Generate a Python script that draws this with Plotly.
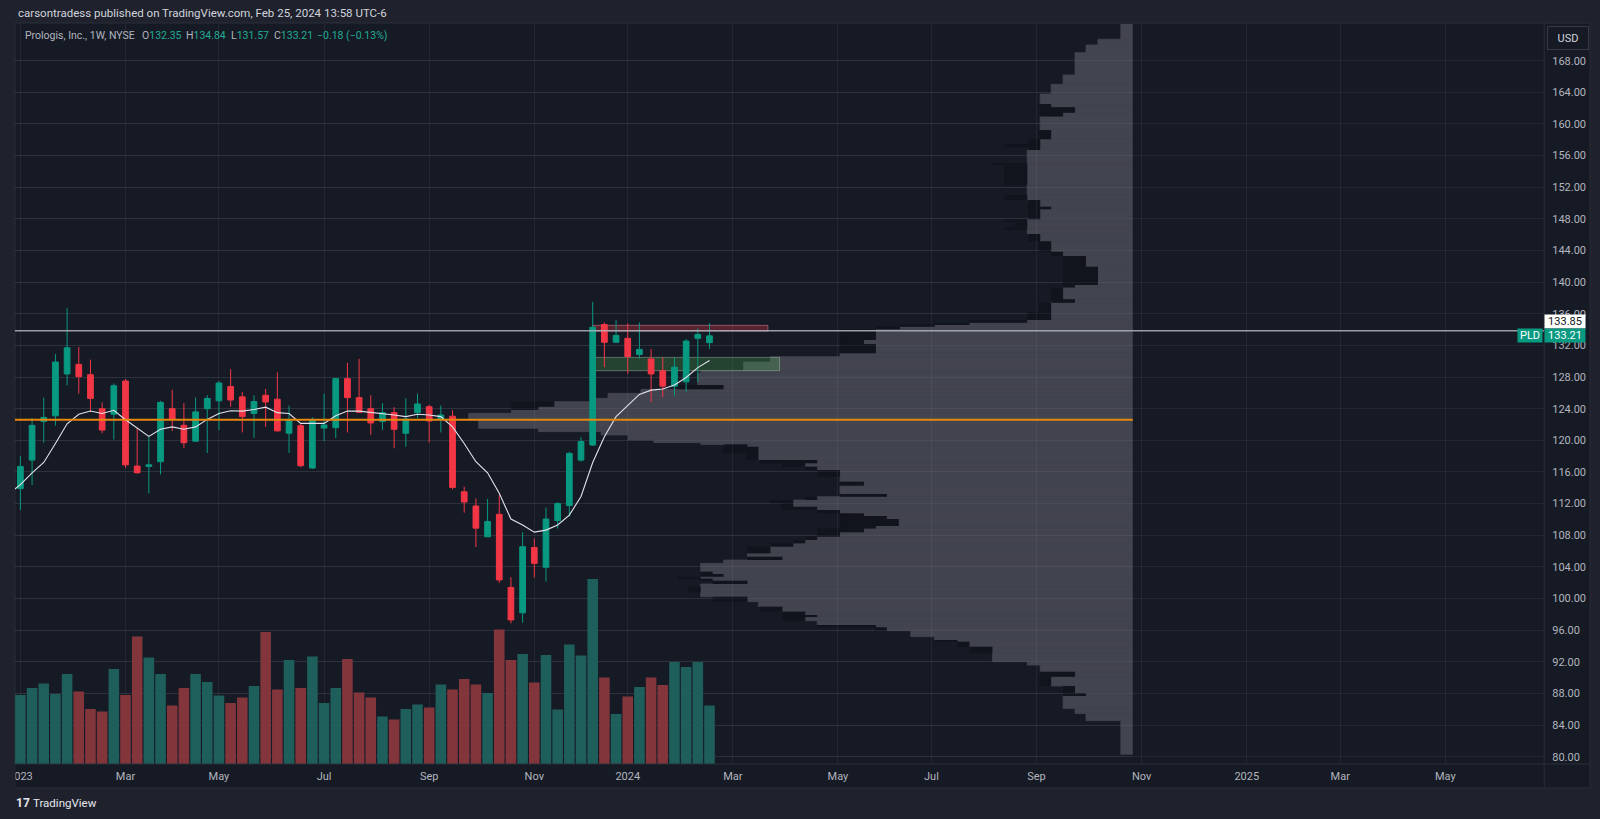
import plotly.graph_objects as go
import pandas as pd

# ---------------- colours ----------------
BG_OUTER = "#1f222d"
BG_CHART = "#161a25"
GRID = "rgba(200,205,220,0.07)"
BORDER = "#2a2e39"
TXT = "#b2b5be"
UP = "#089981"
DOWN = "#f23645"
VOL_UP = "#1f5f5b"
VOL_DOWN = "#82363c"
PROF_LIGHT = "#42444f"
PROF_DARK = "#11141d"

W, H = 1600, 819

# ---------------- data: weekly PLD candles ----------------
week_start = "2023-01-02"
opens = [113.9, 117.5, 122.4, 123.1, 128.4, 129.6, 128.3, 124.0, 123.3, 127.5,
         116.75, 116.7, 117.3, 124.0, 121.9, 119.9, 124.0, 125.0, 126.8, 125.5,
         123.4, 125.7, 125.2, 120.9, 121.85, 116.5, 121.55, 121.6, 127.8, 125.4,
         124.0, 122.4, 123.5, 120.9, 123.5, 124.25, 122.75, 123.05, 113.5, 111.7,
         107.8, 110.65, 101.4, 98.2, 106.45, 103.95, 109.85, 111.75, 117.5, 119.4,
         134.65, 132.4, 132.9, 130.85, 130.3, 128.8, 126.85, 127.4, 132.9, 132.35]
highs = [118.0, 122.8, 125.4, 130.9, 136.7, 131.8, 130.2, 124.8, 127.2, 127.75,
         121.6, 120.5, 125.0, 126.4, 124.7, 125.4, 125.7, 127.5, 129.0, 126.1,
         125.7, 126.5, 128.6, 124.4, 122.15, 122.9, 125.9, 127.9, 129.8, 130.3,
         125.7, 124.7, 124.2, 125.3, 125.9, 124.5, 124.4, 123.8, 114.15, 112.65,
         112.6, 113.1, 102.7, 108.4, 107.6, 111.5, 112.2, 118.55, 120.4, 137.5,
         134.9, 135.2, 134.8, 134.9, 131.55, 130.5, 130.5, 132.8, 134.15, 134.84]
lows = [111.2, 114.35, 119.7, 121.85, 126.95, 125.9, 123.6, 120.9, 120.1, 116.5,
        115.8, 113.3, 115.7, 121.2, 119.0, 119.8, 118.4, 121.3, 124.25, 121.0,
        120.3, 121.7, 121.1, 118.4, 116.6, 116.4, 119.9, 120.3, 121.0, 123.45,
        120.7, 121.3, 119.0, 119.2, 122.8, 119.7, 121.0, 113.8, 110.85, 106.5,
        107.8, 102.0, 96.85, 96.95, 102.65, 102.15, 108.85, 110.35, 117.3, 119.3,
        129.25, 132.3, 128.4, 130.3, 124.8, 125.45, 125.65, 126.15, 127.35, 131.57]
closes = [116.7, 121.9, 122.9, 129.9, 131.7, 128.05, 125.3, 121.3, 126.9, 116.9,
          115.9, 116.9, 124.8, 122.7, 119.7, 123.6, 125.3, 127.25, 125.1, 123.0,
          124.9, 124.85, 121.2, 122.6, 116.8, 122.65, 121.95, 127.8, 125.4, 123.55,
          122.2, 123.5, 121.4, 122.7, 124.6, 122.45, 123.2, 114.05, 112.2, 108.9,
          109.75, 102.35, 97.3, 106.55, 104.45, 110.05, 112.0, 118.35, 119.85, 134.3,
          132.4, 133.25, 130.6, 131.5, 128.4, 126.85, 129.25, 132.55, 133.39, 133.21]
volumes_m = [13.8, 15.2, 16.1, 14.0, 18.0, 14.5, 11.0, 10.5, 19.0, 13.8,
             25.5, 21.3, 18.0, 11.7, 15.2, 18.0, 16.4, 13.7, 12.2, 13.3,
             15.6, 26.4, 14.9, 20.8, 15.2, 21.5, 12.2, 15.2, 21.0, 14.3,
             13.3, 9.5, 8.9, 11.0, 11.9, 11.3, 15.9, 14.9, 17.0, 15.9,
             14.2, 26.9, 20.8, 22.0, 16.3, 21.8, 10.9, 23.9, 21.7, 37.0,
             17.3, 10.0, 13.5, 15.4, 17.3, 15.8, 20.4, 19.4, 20.4, 11.7]

# moving average line, starts one week earlier
ma_start = "2022-12-26"
ma_values = [113.2, 114.4, 115.9, 117.2, 119.6, 122.1, 123.3, 123.7, 123.4, 123.8,
             122.6, 121.5, 120.5, 121.4, 121.7, 121.4, 121.7, 122.65, 123.4, 123.75,
             123.7, 123.9, 124.2, 123.5, 123.4, 122.15, 122.15, 122.15, 123.1, 123.7,
             123.7, 123.55, 123.4, 123.2, 123.0, 123.3, 123.2, 123.0, 121.7, 119.6,
             117.3, 115.9, 113.3, 110.05, 109.3, 108.4, 108.65, 109.3, 110.55, 112.9,
             117.2, 120.45, 123.0, 124.45, 125.8, 126.35, 126.5, 127.0, 127.95, 129.2,
             130.1]

# ---------------- data: fixed range volume profile ----------------
prof_lo = [170.71, 169.99, 169.02, 166.20, 165.02, 163.79, 162.53, 162.11, 161.43, 160.93,
           159.24, 158.06, 157.47, 157.05, 156.71, 155.03, 154.77, 152.29, 151.02, 150.39,
           149.55, 149.21, 147.95, 147.57, 146.93, 146.68, 146.09, 145.16, 143.86, 143.31,
           141.96, 139.64, 139.31, 137.83, 137.41, 136.27, 135.22, 134.88, 134.67, 134.37,
           134.04, 132.69, 132.18, 131.00, 130.58, 129.90, 128.81, 128.48, 127.00, 126.45,
           125.95, 125.31, 124.89, 124.26, 123.84, 123.42, 122.57, 121.52, 121.10, 120.68,
           120.05, 119.71, 119.49, 119.20, 118.36, 117.51, 117.09, 116.67, 116.25, 115.41,
           114.77, 114.27, 113.21, 112.88, 112.46, 112.03, 111.61, 111.19, 110.77, 110.43,
           110.05, 109.17, 108.87, 108.37, 107.82, 107.40, 106.98, 106.56, 105.71, 105.29,
           104.87, 104.45, 103.39, 103.10, 102.76, 102.51, 102.26, 101.84, 101.50, 100.78,
           100.23, 99.60, 98.97, 98.34, 97.92, 97.71, 97.20, 96.65, 96.36, 95.94,
           95.18, 94.75, 94.54, 93.91, 93.07, 92.02, 91.59, 90.75, 90.12, 88.94,
           88.01, 87.80, 86.11, 85.48, 84.56, 80.30]
prof_hi = [172.70] + prof_lo[:-1]
prof_light = [12, 35, 47, 58, 70, 82, 93, 82, 58, 70,
              93, 82, 93, 93, 93, 106, 106, 106, 106, 106,
              93, 82, 93, 106, 106, 106, 106, 93, 82, 70,
              47, 35, 58, 70, 58, 82, 82, 106, 164, 199,
              234, 258, 270, 258, 294, 364, 391, 434, 437, 411,
              494, 527, 544, 581, 597, 624, 667, 657, 597, 534,
              507, 481, 434, 387, 376, 376, 317, 329, 317, 294,
              294, 270, 294, 247, 317, 341, 341, 317, 294, 270,
              247, 235, 258, 270, 294, 317, 329, 341, 364, 387,
              352, 411, 434, 422, 411, 434, 422, 387, 434, 434,
              434, 387, 376, 352, 329, 317, 329, 317, 258, 247,
              223, 199, 176, 164, 141, 141, 106, 93, 58, 82,
              58, 47, 70, 58, 47, 12]
prof_dark = [0, 0, 0, 0, 0, 0, 0, 12, 35, 23,
             0, 12, 12, 36, 12, 0, 35, 23, 0, 23,
             12, 24, 12, 23, 12, 23, 0, 12, 12, 12,
             23, 35, 12, 12, 23, 12, 24, 58, 35, 35,
             24, 36, 24, 36, 0, 0, 0, 0, 0, 47,
             0, 0, 0, 43, 27, 0, 0, 0, 0, 0,
             0, 0, 0, 23, 35, 12, 58, 23, 12, 23,
             0, 24, 0, 47, 12, 23, 12, 35, 23, 24,
             47, 59, 36, 47, 23, 12, 12, 23, 23, 0,
             35, 0, 0, 12, 23, 23, 12, 35, 0, 12,
             0, 35, 0, 23, 23, 35, 23, 0, 59, 12,
             0, 0, 23, 12, 23, 0, 0, 0, 35, 12,
             12, 23, 0, 0, 0, 0]
poc_price = 122.6

# ---------------- drawings ----------------
hline_price = 133.85
red_zone = dict(x0="2023-12-11", x1="2024-03-25", y0=133.82, y1=134.54)
green_zone = dict(x0="2023-12-11", x1="2024-04-01", y0=128.81, y1=130.49)

# ---------------- axis ticks ----------------
tick_dates = ["2023-01-02", "2023-03-06", "2023-05-01", "2023-07-03", "2023-09-04",
              "2023-11-06", "2024-01-01", "2024-03-04", "2024-05-06", "2024-07-01",
              "2024-09-02", "2024-11-04", "2025-01-06", "2025-03-03", "2025-05-05"]
tick_text = ["2023", "Mar", "May", "Jul", "Sep", "Nov", "2024", "Mar", "May", "Jul",
             "Sep", "Nov", "2025", "Mar", "May"]
price_ticks = [80, 84, 88, 92, 96, 100, 104, 108, 112, 116, 120, 124, 128, 132, 136,
               140, 144, 148, 152, 156, 160, 164, 168]

weeks = pd.date_range(week_start, periods=len(opens), freq="7D")
ma_weeks = pd.date_range(ma_start, periods=len(ma_values), freq="7D")
vol_colors = [VOL_UP if c >= o else VOL_DOWN for o, c in zip(opens, closes)]
prof_mid = [(a + b) / 2 for a, b in zip(prof_lo, prof_hi)]
prof_h = [b - a for a, b in zip(prof_lo, prof_hi)]


def px(x):
    return x / W


def py(y):
    return 1 - y / H


FONT = "Roboto, Liberation Sans, sans-serif"

fig = go.Figure()

# volume profile (bottom subplot)
fig.add_trace(go.Bar(y=prof_mid, x=prof_light, width=prof_h, orientation="h",
                     base=0, marker=dict(color=PROF_LIGHT, line=dict(color=PROF_LIGHT, width=0.8)),
                     xaxis="x", yaxis="y", hoverinfo="skip", showlegend=False))
fig.add_trace(go.Bar(y=prof_mid, x=prof_dark, width=prof_h, orientation="h",
                     base=prof_light, marker=dict(color=PROF_DARK, line=dict(width=0)),
                     xaxis="x", yaxis="y", hoverinfo="skip", showlegend=False))

# candles
fig.add_trace(go.Candlestick(x=weeks, open=opens, high=highs, low=lows, close=closes,
                             xaxis="x2", yaxis="y", whiskerwidth=0,
                             increasing=dict(line=dict(color=UP, width=1), fillcolor=UP),
                             decreasing=dict(line=dict(color=DOWN, width=1), fillcolor=DOWN),
                             hoverinfo="skip", showlegend=False))
# moving average
fig.add_trace(go.Scatter(x=ma_weeks, y=ma_values, mode="lines", xaxis="x2", yaxis="y",
                         line=dict(color="#e0e3eb", width=1.1), hoverinfo="skip",
                         showlegend=False))
# volume
fig.add_trace(go.Bar(x=weeks, y=volumes_m, marker=dict(color=vol_colors, line=dict(width=0)),
                     width=6.33 * 86400000, xaxis="x2", yaxis="y2", hoverinfo="skip",
                     showlegend=False))

shapes = [
    dict(type="rect", xref="paper", yref="paper", x0=px(8), x1=px(1590), y0=py(788), y1=py(23),
         fillcolor=BG_CHART, line=dict(color=BORDER, width=1), layer="below"),
    dict(type="rect", xref="x2", yref="y", x0=red_zone["x0"], x1=red_zone["x1"],
         y0=red_zone["y0"], y1=red_zone["y1"], fillcolor="rgba(242,54,69,0.30)",
         line=dict(color="rgba(210,130,140,0.55)", width=1), layer="below"),
    dict(type="rect", xref="x2", yref="y", x0=green_zone["x0"], x1=green_zone["x1"],
         y0=green_zone["y0"], y1=green_zone["y1"], fillcolor="rgba(76,175,80,0.28)",
         line=dict(color="rgba(170,190,170,0.45)", width=1), layer="below"),
    dict(type="line", xref="x domain", yref="y", x0=0, x1=1, y0=poc_price, y1=poc_price,
         line=dict(color="#e8870e", width=2), layer="above"),
    dict(type="line", xref="x2 domain", yref="y", x0=0, x1=1, y0=hline_price, y1=hline_price,
         line=dict(color="rgba(178,181,190,0.85)", width=1.5), layer="above"),
    dict(type="line", xref="paper", yref="paper", x0=px(8), x1=px(1590), y0=py(764), y1=py(764),
         line=dict(color=BORDER, width=1), layer="above"),
    dict(type="line", xref="paper", yref="paper", x0=px(1544), x1=px(1544), y0=py(788), y1=py(23),
         line=dict(color=BORDER, width=1), layer="above"),
    dict(type="rect", xref="paper", yref="paper", x0=0, x1=px(8.5), y0=py(790), y1=py(764),
         fillcolor=BG_OUTER, line=dict(width=0), layer="above"),
]

ann = []
ann.append(dict(text="carsontradess published on TradingView.com, Feb 25, 2024 13:58 UTC-6",
                xref="paper", yref="paper", x=px(9), y=py(13), xanchor="left", yanchor="middle",
                showarrow=False, font=dict(family=FONT, size=11.5, color="#d1d4dc")))
teal = "#22ab94"
legend_items = [
    (16, "Prologis, Inc., 1W, NYSE"),
    (134, f"O<span style='color:{teal}'>132.35</span>"),
    (178, f"H<span style='color:{teal}'>134.84</span>"),
    (223, f"L<span style='color:{teal}'>131.57</span>"),
    (266, f"C<span style='color:{teal}'>133.21</span>"),
    (309, f"<span style='color:{teal}'>\u22120.18 (\u22120.13%)</span>"),
]
for xx, t in legend_items:
    ann.append(dict(text=t, xref="paper", yref="paper", x=px(xx), y=py(36), xanchor="left",
                    yanchor="middle", showarrow=False,
                    font=dict(family=FONT, size=10.5, color=TXT)))
# USD button
ann.append(dict(text="USD", xref="paper", yref="paper", x=px(1567.5), y=py(38),
                xanchor="center", yanchor="middle", showarrow=False, width=38, height=20,
                bordercolor="#363a45", borderwidth=1, bgcolor=BG_CHART,
                font=dict(family=FONT, size=11, color="#d1d4dc")))
# price labels
ann.append(dict(text=f"{hline_price:.2f}", xref="paper", yref="y", x=px(1565), y=hline_price,
                yshift=9, xanchor="center", yanchor="middle", showarrow=False,
                width=40, height=13, bgcolor="#ffffff", borderpad=0,
                font=dict(family=FONT, size=11, color="#131722")))
ann.append(dict(text=f"{closes[-1]:.2f}", xref="paper", yref="y", x=px(1565), y=closes[-1],
                xanchor="center", yanchor="middle", showarrow=False,
                width=40, height=13, bgcolor=UP, borderpad=0,
                font=dict(family=FONT, size=11, color="#ffffff")))
ann.append(dict(text="PLD", xref="paper", yref="y", x=px(1530), y=closes[-1],
                xanchor="center", yanchor="middle", showarrow=False,
                width=24, height=13, bgcolor=UP, borderpad=0,
                font=dict(family=FONT, size=11, color="#ffffff")))
# footer
ann.append(dict(text="<b>17</b>", xref="paper", yref="paper", x=px(7), y=py(803),
                xanchor="left", yanchor="middle", showarrow=False,
                font=dict(family=FONT, size=12, color="#e6e8ee")))
ann.append(dict(text="TradingView", xref="paper", yref="paper", x=px(24), y=py(803),
                xanchor="left", yanchor="middle", showarrow=False,
                font=dict(family=FONT, size=11.5, color="#e6e8ee")))

fig.update_layout(
    width=W, height=H, autosize=False,
    margin=dict(l=0, r=0, t=0, b=0, pad=0),
    paper_bgcolor=BG_OUTER, plot_bgcolor="rgba(0,0,0,0)",
    barmode="overlay", boxgap=0.3,
    showlegend=False,
    xaxis=dict(domain=[px(8), px(1130.7)], range=[1122.7, 0], visible=False,
               anchor="y", fixedrange=True),
    xaxis2=dict(type="date", domain=[px(8), px(1544)],
                range=["2022-12-29 18:00", "2025-07-03 07:00"], anchor="y",
                tickvals=tick_dates, ticktext=tick_text, ticks="",
                showgrid=True, gridcolor=GRID, gridwidth=1, zeroline=False, showline=False,
                tickfont=dict(family=FONT, size=11, color=TXT),
                rangeslider=dict(visible=False), ticklabelstandoff=4),
    yaxis=dict(domain=[py(764), py(24)], range=[79.08, 172.64], side="right", anchor="x2",
               tickvals=price_ticks, tickformat=".2f", ticks="", showgrid=True, gridcolor=GRID,
               zeroline=False, showline=False, ticklabelstandoff=7,
               tickfont=dict(family=FONT, size=11, color=TXT)),
    yaxis2=dict(overlaying="y", range=[0, 148], visible=False, anchor="x2"),
    shapes=shapes,
    annotations=ann,
)

fig.write_html("out.html")
